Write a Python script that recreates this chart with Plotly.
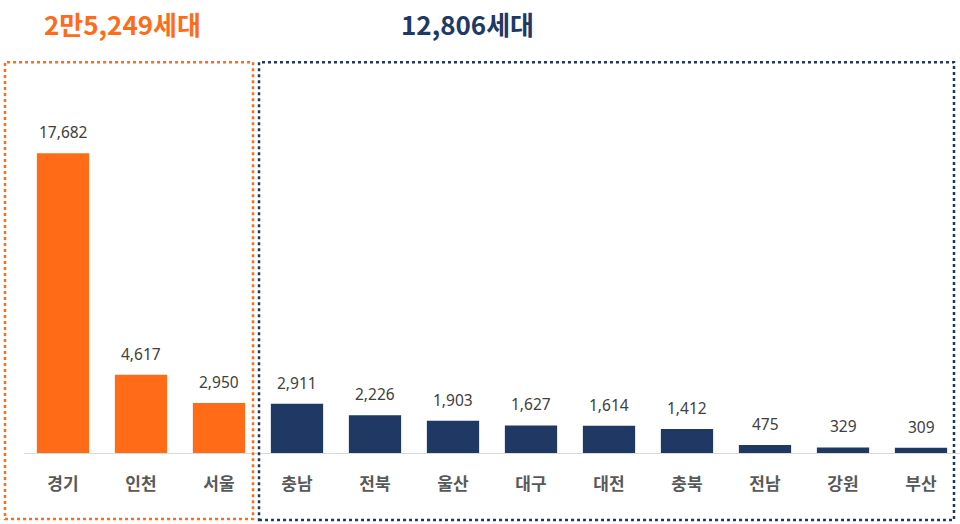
import plotly.graph_objects as go

categories = ["경기", "인천", "서울", "충남", "전북", "울산", "대구", "대전", "충북", "전남", "강원", "부산"]
values = [17682, 4617, 2950, 2911, 2226, 1903, 1627, 1614, 1412, 475, 329, 309]
groups = ["capital"] * 3 + ["local"] * 9
title_capital = "2만5,249세대"
title_local = "12,806세대"

ORANGE = "#FF6B17"
NAVY = "#203864"
FONT = "Noto Sans CJK KR"

colors = [ORANGE if g == "capital" else NAVY for g in groups]

fig = go.Figure()
fig.add_trace(go.Bar(
    x=categories, y=values, marker=dict(color=colors, line=dict(width=0)),
    width=0.67, hoverinfo="skip",
))

for c, v in zip(categories, values):
    fig.add_annotation(x=c, y=v, text=f"{v:,}", showarrow=False, yanchor="bottom",
                       yshift=8, font=dict(family="Noto Sans", size=15.5, color="#404040"))

fig.add_annotation(x=0.76, y=1.268, xref="x", yref="paper", yanchor="middle",
                   text=f"<b>{title_capital}</b>",
                   showarrow=False, font=dict(family=FONT, size=26, color=ORANGE))
fig.add_annotation(x=5.18, y=1.268, xref="x", yref="paper", yanchor="middle",
                   text=f"<b>{title_local}</b>",
                   showarrow=False, font=dict(family=FONT, size=26, color=NAVY))

fig.add_shape(type="rect", xref="paper", yref="paper", x0=-0.0203, x1=0.2447, y0=-0.195, y1=1.153,
              line=dict(color=ORANGE, width=2.5, dash="dot"))
fig.add_shape(type="rect", xref="paper", yref="paper", x0=0.2511, x1=0.9936, y0=-0.198, y1=1.153,
              line=dict(color=NAVY, width=2.5, dash="dot"))

fig.update_layout(
    width=960, height=524, margin=dict(l=24, r=0, t=114, b=71),
    plot_bgcolor="white", paper_bgcolor="white", showlegend=False,
    bargap=0.33,
    xaxis=dict(range=[-0.5, 11.5], showline=True, linecolor="#D9D9D9", linewidth=1,
               ticks="", ticklabelstandoff=16, showgrid=False,
               tickfont=dict(family=FONT, size=17, color="#595959", weight="bold")),
    yaxis=dict(range=[0, 20000], visible=False, showgrid=False),
)

fig.write_html("out.html")
